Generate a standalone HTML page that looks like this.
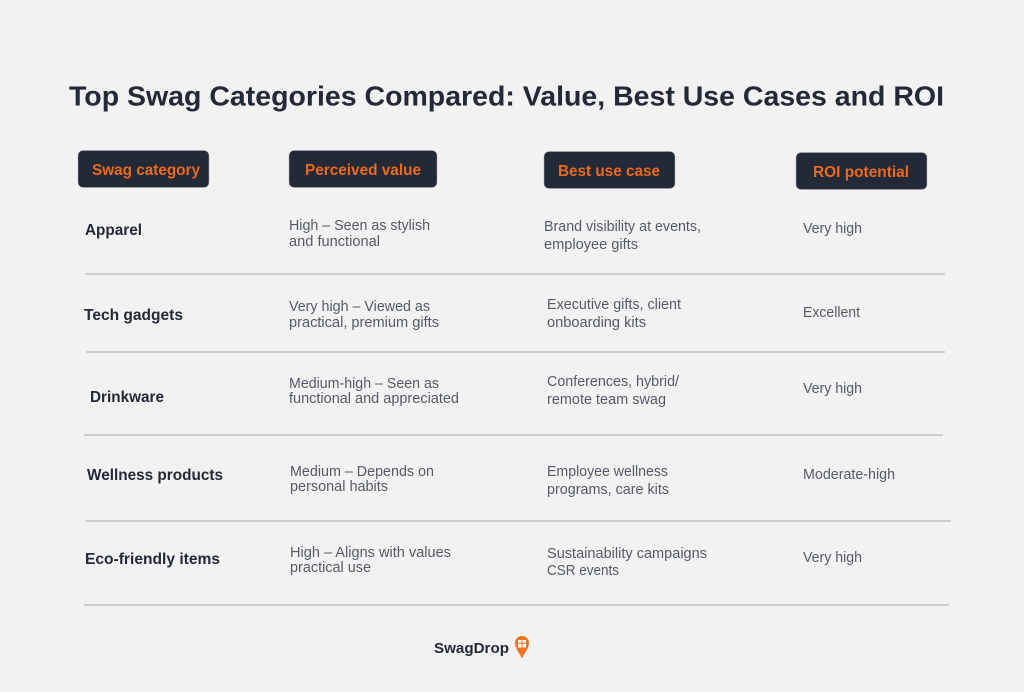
<!DOCTYPE html>
<html lang="en">
<head>
<meta charset="utf-8">
<title>Top Swag Categories Compared</title>
<style>
html,body{margin:0;padding:0;background:#f2f2f2}
svg{display:block}
text{font-family:"Liberation Sans",sans-serif}
.h{font-size:15.5px;font-weight:700;fill:#ec6a1c}
.c{font-size:16px;font-weight:700;fill:#232936}
.b{font-size:14.5px;fill:#555b66}
.r{fill:#232936;stroke:#a9adb4;stroke-width:.5}
.l{stroke:#a6aaaf;stroke-width:1.1}
</style>
</head>
<body>
<svg width="1024" height="692" viewBox="0 0 1024 692">
<rect width="1024" height="692" fill="#f2f2f2"/>
<text x="69" y="105.500" font-size="28" font-weight="700" fill="#232936" textLength="875" lengthAdjust="spacingAndGlyphs">Top Swag Categories Compared: Value, Best Use Cases and ROI</text>

<g>
<rect class="r" x="78" y="150.500" width="131" height="37" rx="5"/>
<text class="h" x="92" y="175" textLength="108" lengthAdjust="spacingAndGlyphs">Swag category</text>
</g>
<g>
<rect class="r" x="289" y="150.500" width="148" height="37" rx="5"/>
<text class="h" x="305" y="175" textLength="116" lengthAdjust="spacingAndGlyphs">Perceived value</text>
</g>
<g>
<rect class="r" x="544" y="151.500" width="131" height="37" rx="5"/>
<text class="h" x="558" y="176" textLength="102" lengthAdjust="spacingAndGlyphs">Best use case</text>
</g>
<g>
<rect class="r" x="796" y="152.500" width="131" height="37" rx="5"/>
<text class="h" x="813" y="177" textLength="96" lengthAdjust="spacingAndGlyphs">ROI potential</text>
</g>

<g>
<text class="c" x="85" y="235" textLength="57" lengthAdjust="spacingAndGlyphs">Apparel</text>
<text class="b" x="289" y="230" textLength="141" lengthAdjust="spacingAndGlyphs">High – Seen as stylish</text>
<text class="b" x="289" y="246" textLength="91" lengthAdjust="spacingAndGlyphs">and functional</text>
<text class="b" x="544" y="231" textLength="157" lengthAdjust="spacingAndGlyphs">Brand visibility at events,</text>
<text class="b" x="544" y="249" textLength="94" lengthAdjust="spacingAndGlyphs">employee gifts</text>
<text class="b" x="803" y="233" textLength="59" lengthAdjust="spacingAndGlyphs">Very high</text>
</g>
<line class="l" x1="85" y1="274" x2="945" y2="274"/>

<g>
<text class="c" x="84" y="320" textLength="99" lengthAdjust="spacingAndGlyphs">Tech gadgets</text>
<text class="b" x="289" y="311" textLength="141" lengthAdjust="spacingAndGlyphs">Very high – Viewed as</text>
<text class="b" x="289" y="327" textLength="150" lengthAdjust="spacingAndGlyphs">practical, premium gifts</text>
<text class="b" x="547" y="309" textLength="134" lengthAdjust="spacingAndGlyphs">Executive gifts, client</text>
<text class="b" x="547" y="327" textLength="99" lengthAdjust="spacingAndGlyphs">onboarding kits</text>
<text class="b" x="803" y="317" textLength="57" lengthAdjust="spacingAndGlyphs">Excellent</text>
</g>
<line class="l" x1="86" y1="352" x2="945" y2="352"/>

<g>
<text class="c" x="90" y="402" textLength="74" lengthAdjust="spacingAndGlyphs">Drinkware</text>
<text class="b" x="289" y="388" textLength="150" lengthAdjust="spacingAndGlyphs">Medium-high – Seen as</text>
<text class="b" x="289" y="403" textLength="170" lengthAdjust="spacingAndGlyphs">functional and appreciated</text>
<text class="b" x="547" y="386" textLength="132" lengthAdjust="spacingAndGlyphs">Conferences, hybrid/</text>
<text class="b" x="547" y="404" textLength="119" lengthAdjust="spacingAndGlyphs">remote team swag</text>
<text class="b" x="803" y="393" textLength="59" lengthAdjust="spacingAndGlyphs">Very high</text>
</g>
<line class="l" x1="84" y1="435" x2="943" y2="435"/>

<g>
<text class="c" x="87" y="480" textLength="136" lengthAdjust="spacingAndGlyphs">Wellness products</text>
<text class="b" x="290" y="476" textLength="144" lengthAdjust="spacingAndGlyphs">Medium – Depends on</text>
<text class="b" x="290" y="491" textLength="98" lengthAdjust="spacingAndGlyphs">personal habits</text>
<text class="b" x="547" y="476" textLength="121" lengthAdjust="spacingAndGlyphs">Employee wellness</text>
<text class="b" x="547" y="494" textLength="122" lengthAdjust="spacingAndGlyphs">programs, care kits</text>
<text class="b" x="803" y="479" textLength="92" lengthAdjust="spacingAndGlyphs">Moderate-high</text>
</g>
<line class="l" x1="86" y1="521" x2="951" y2="521"/>

<g>
<text class="c" x="85" y="564" textLength="135" lengthAdjust="spacingAndGlyphs">Eco-friendly items</text>
<text class="b" x="290" y="557" textLength="161" lengthAdjust="spacingAndGlyphs">High – Aligns with values</text>
<text class="b" x="290" y="572" textLength="81" lengthAdjust="spacingAndGlyphs">practical use</text>
<text class="b" x="547" y="558" textLength="160" lengthAdjust="spacingAndGlyphs">Sustainability campaigns</text>
<text class="b" x="547" y="575" textLength="72" lengthAdjust="spacingAndGlyphs">CSR events</text>
<text class="b" x="803" y="562" textLength="59" lengthAdjust="spacingAndGlyphs">Very high</text>
</g>
<line class="l" x1="84" y1="605" x2="949" y2="605"/>

<g>
<text x="434" y="653" font-size="15" font-weight="700" fill="#232936" textLength="75" lengthAdjust="spacingAndGlyphs">SwagDrop</text>
<path d="M522 658.500 C519 652 515 648.500 515 643 A7 7 0 0 1 529 643 C529 648.500 525 652 522 658.500 Z" fill="#ee7526"/>
<rect x="518" y="640" width="8" height="7.500" fill="#fff"/>
<path d="M518 643.300H526M522 640V647.500" stroke="#ee7526" stroke-width="1" fill="none"/>
</g>
</svg>
</body>
</html>
